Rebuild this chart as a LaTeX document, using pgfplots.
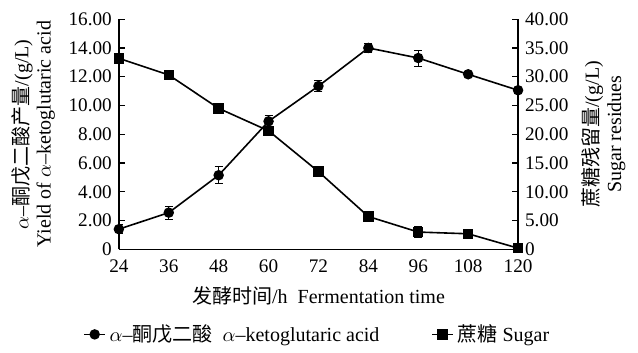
\documentclass[border=0pt]{standalone}
\usepackage{pgfplots}
\pgfplotsset{compat=1.18}
\usepackage{fontspec}
\setmainfont{Liberation Serif}
\newfontfamily\cjk{Noto Sans CJK SC}
\begin{document}
\begin{tikzpicture}
\pgfplotsset{
  common/.style={
    scale only axis, width=199.5pt, height=115pt,
    xmin=24, xmax=120,
    /pgf/number format/assume math mode=true,
    tick align=inside,
    major tick length=3pt,
    tick style={black, line width=0.6pt},
    axis line style={line width=0.7pt},
    label style={font=\fontsize{10}{11}\selectfont},
    tick label style={font=\fontsize{9.6}{11}\selectfont},
  }
}
\begin{axis}[common,
  ymin=0, ymax=16,
  axis x line*=bottom, axis y line*=left,
  xtick={24,36,48,60,72,84,96,108,120},
  x tick style={draw=none},
  xticklabel style={yshift=-1.8pt},
  ytick={0,2,4,6,8,10,12,14,16},
  yticklabels={0,2.00,4.00,6.00,8.00,10.00,12.00,14.00,16.00},
  xlabel={{\cjk 发酵时间}/h\ \ Fermentation time},
  xlabel style={yshift=0pt},
  ylabel={$\alpha$–{\cjk 酮戊二酸产量}/(g/L)\\Yield of $\alpha$–ketoglutaric acid},
  ylabel style={align=center},
  legend style={at={(0.5,-0.29)}, anchor=north, draw=none, legend columns=2,
    font=\fontsize{10}{11}\selectfont, /tikz/every even column/.append style={column sep=24pt}},
  legend cell align=left,
  legend image code/.code={
    \draw[#1, mark repeat=2, mark phase=2] plot coordinates {(0cm,0cm) (0.18cm,0cm) (0.36cm,0cm)};
  },
]
\addplot[black, line width=0.8pt, mark=*, mark size=2.2pt,
  error bars/.cd, y dir=both, y explicit, error bar style={line width=0.6pt}, error mark options={rotate=90, mark size=2pt}]
  table[x=t, y=v, y error=e] {
  t v e
  24 1.40 0.3
  36 2.55 0.45
  48 5.15 0.6
  60 8.90 0.4
  72 11.35 0.4
  84 14.00 0.3
  96 13.30 0.55
  108 12.17 0.15
  120 11.06 0.2
  };
\addlegendentry{$\alpha$–{\cjk 酮戊二酸}\ \ $\alpha$–ketoglutaric acid}
\addlegendimage{black, line width=0.8pt, mark=square*, mark size=2.2pt}
\addlegendentry{{\cjk 蔗糖} Sugar}
\end{axis}
\begin{axis}[common,
  ymin=0, ymax=40,
  axis x line=none, axis y line*=right,
  ytick={0,5,10,15,20,25,30,35,40},
  yticklabels={0,5.00,10.00,15.00,20.00,25.00,30.00,35.00,40.00},
  ylabel={{\cjk 蔗糖残留量}/(g/L)\\Sugar residues},
  ylabel style={align=center},
]
\addplot[black, line width=0.8pt, mark=square*, mark size=2.2pt,
  error bars/.cd, y dir=both, y explicit, error bar style={line width=0.6pt}, error mark options={rotate=90, mark size=2pt}]
  table[x=t, y=v, y error=e] {
  t v e
  24 33.2 0.6
  36 30.3 0.7
  48 24.5 0.4
  60 20.6 0.8
  72 13.5 0.4
  84 5.7 0.4
  96 3.0 0.9
  108 2.7 0.4
  120 0.2 0.2
  };
\end{axis}
\path ([xshift=-2.5pt,yshift=3pt]current bounding box.north west) -- ([xshift=3pt]current bounding box.south east);
\end{tikzpicture}
\end{document}
